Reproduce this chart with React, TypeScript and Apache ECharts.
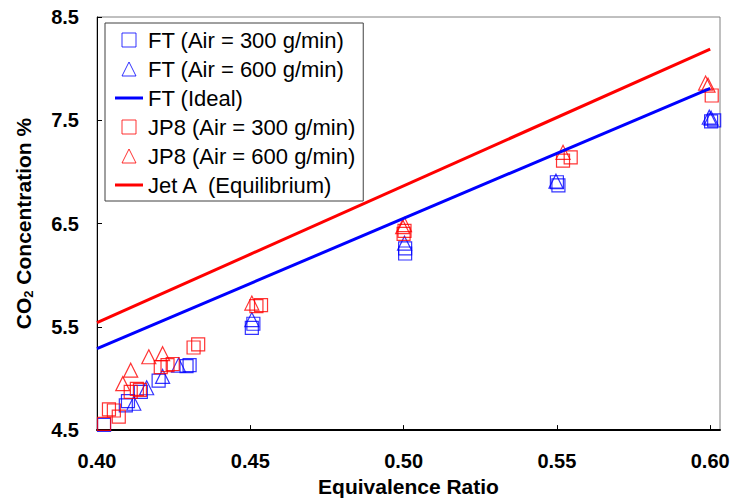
import React, { useEffect, useRef } from "react";
import * as echarts from "echarts";

const xTicks = [0.4, 0.45, 0.5, 0.55, 0.6];
const yTicks = [4.5, 5.5, 6.5, 7.5, 8.5];

const ft300: [number, number][] = [
  [0.4023, 4.55], [0.4094, 4.74], [0.4101, 4.78], [0.4143, 4.87], [0.4201, 4.98],
  [0.4292, 5.12], [0.4302, 5.13], [0.4505, 5.49], [0.451, 5.53], [0.5005, 6.21],
  [0.5005, 6.26], [0.5505, 6.87], [0.55, 6.9], [0.6003, 7.49], [0.6013, 7.5],
];
const ft600: [number, number][] = [
  [0.412, 4.76], [0.4162, 4.91], [0.4214, 5.02], [0.4266, 5.13], [0.4505, 5.57],
  [0.5003, 6.31], [0.5497, 6.91], [0.5997, 7.53], [0.6003, 7.52],
];
const ftIdeal: [number, number][] = [[0.4, 5.29], [0.6, 7.81]];
const jp8300: [number, number][] = [
  [0.4023, 4.56], [0.4039, 4.7], [0.4055, 4.69], [0.4071, 4.63], [0.411, 4.87],
  [0.413, 4.9], [0.414, 4.89], [0.4208, 5.11], [0.423, 5.13], [0.4247, 5.14],
  [0.4315, 5.3], [0.433, 5.33], [0.452, 5.7], [0.4535, 5.71], [0.5, 6.4],
  [0.5003, 6.43], [0.552, 7.11], [0.5545, 7.14], [0.6005, 7.74],
];
const jp8600: [number, number][] = [
  [0.4084, 4.95], [0.411, 5.08], [0.4169, 5.21], [0.4214, 5.24], [0.4505, 5.73],
  [0.4997, 6.47], [0.5003, 6.49], [0.552, 7.19], [0.5985, 7.86], [0.5993, 7.84],
];
const jetA: [number, number][] = [[0.4, 5.54], [0.6, 8.19]];

const BLUE = "#0000ff";
const RED = "#ff0000";
const FONT = "'Liberation Sans', Arial, sans-serif";
const SQ = "path://M0,0L1,0L1,1L0,1Z";
const TRI = "path://M0.5,0L1,1L0,1Z";
const BAR = "path://M0,0L28,0L28,3L0,3Z";

export default function App() {
  const ref = useRef<HTMLDivElement>(null);
  useEffect(() => {
    const chart = echarts.init(ref.current!, null, { renderer: "svg" });
    const scatter = (name: string, data: [number, number][], color: string, symbol: string, size: number) => ({
      name,
      type: "scatter",
      data,
      symbol,
      symbolSize: size,
      itemStyle: { color: "rgba(0,0,0,0)", borderColor: color, borderWidth: 1.2 },
    });
    const line = (name: string, data: [number, number][], color: string) => ({
      name,
      type: "line",
      data,
      symbol: "none",
      showSymbol: false,
      lineStyle: { color, width: 3 },
      itemStyle: { color },
    });
    const open = (c: string) => ({ color: "rgba(0,0,0,0)", borderColor: c, borderWidth: 1 });
    chart.setOption({
      animation: false,
      grid: {
        left: 97, right: 13, top: 17, bottom: 69,
        show: true, borderColor: "#808080", borderWidth: 1,
      },
      legend: {
        left: 105, top: 23, orient: "vertical",
        itemWidth: 28, itemHeight: 14, itemGap: 5,
        padding: [5, 8, 4, 10],
        borderColor: "#404040", borderWidth: 1,
        backgroundColor: "#fff",
        symbolKeepAspect: true,
        textStyle: { fontFamily: FONT, fontSize: 22, color: "#000", lineHeight: 24 },
        data: [
          { name: "FT (Air = 300 g/min)", icon: SQ, itemStyle: open(BLUE) },
          { name: "FT (Air = 600 g/min)", icon: TRI, itemStyle: open(BLUE) },
          { name: "FT (Ideal)", icon: BAR, itemStyle: { color: BLUE, borderWidth: 0 } },
          { name: "JP8 (Air = 300 g/min)", icon: SQ, itemStyle: open(RED) },
          { name: "JP8 (Air = 600 g/min)", icon: TRI, itemStyle: open(RED) },
          { name: "Jet A  (Equilibrium)", icon: BAR, itemStyle: { color: RED, borderWidth: 0 } },
        ],
      },
      xAxis: {
        type: "value",
        min: 0.4,
        max: 0.6032,
        name: "Equivalence Ratio",
        nameLocation: "middle",
        nameGap: 44,
        nameTextStyle: { fontFamily: FONT, fontSize: 21, fontWeight: "bold", color: "#000" },
        axisLine: { lineStyle: { color: "#000", width: 2 } },
        axisTick: { inside: true, length: 5, customValues: xTicks, lineStyle: { color: "#000" } },
        axisLabel: {
          customValues: xTicks,
          formatter: (v: number) => v.toFixed(2),
          margin: 21,
          fontFamily: FONT, fontSize: 20, fontWeight: "bold", color: "#000",
        },
        splitLine: { show: false },
      },
      yAxis: {
        type: "value",
        min: 4.5,
        max: 8.5,
        name: "{a|CO}{s|2}{a| Concentration %}",
        nameLocation: "middle",
        nameGap: 62,
        nameTextStyle: {
          rich: {
            a: { fontFamily: FONT, fontSize: 21, fontWeight: "bold", color: "#000" },
            s: { fontFamily: FONT, fontSize: 13, fontWeight: "bold", color: "#000", verticalAlign: "bottom", padding: [10, 0, 0, 0] },
          },
        },
        axisLine: { lineStyle: { color: "#000", width: 1 } },
        axisTick: { inside: true, length: 5, customValues: yTicks, lineStyle: { color: "#000" } },
        axisLabel: {
          customValues: yTicks,
          formatter: (v: number) => v.toFixed(1),
          margin: 18,
          fontFamily: FONT, fontSize: 20, fontWeight: "bold", color: "#000",
        },
        splitLine: { show: false },
      },
      series: [
        scatter("FT (Air = 300 g/min)", ft300, BLUE, "rect", 13),
        scatter("FT (Air = 600 g/min)", ft600, BLUE, "triangle", 14),
        line("FT (Ideal)", ftIdeal, BLUE),
        scatter("JP8 (Air = 300 g/min)", jp8300, RED, "rect", 13),
        scatter("JP8 (Air = 600 g/min)", jp8600, RED, "triangle", 14),
        line("Jet A  (Equilibrium)", jetA, RED),
      ],
    });
    return () => chart.dispose();
  }, []);
  return <div ref={ref} style={{ position: "absolute", left: 0, top: 0, width: 733, height: 502 }} />;
}
